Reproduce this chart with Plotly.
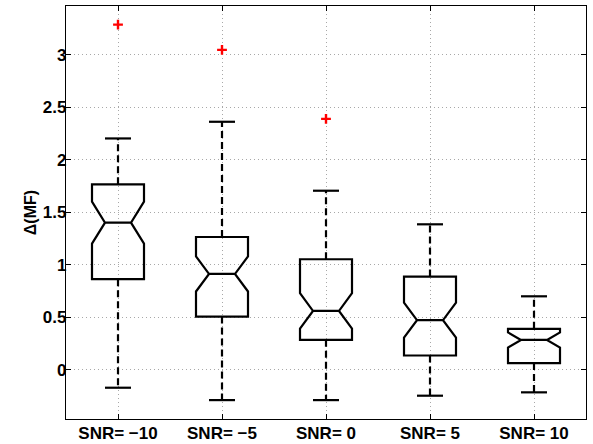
import plotly.graph_objects as go

# ---- data ----
labels = ["SNR= \u221210", "SNR= \u22125", "SNR= 0", "SNR= 5", "SNR= 10"]
positions = [1, 2, 3, 4, 5]
q1 = [0.863, 0.507, 0.285, 0.136, 0.064]
median = [1.402, 0.913, 0.561, 0.473, 0.284]
q3 = [1.767, 1.265, 1.053, 0.888, 0.390]
notch = [0.200, 0.167, 0.168, 0.167, 0.072]
whisk_lo = [-0.171, -0.289, -0.289, -0.247, -0.215]
whisk_hi = [2.204, 2.363, 1.706, 1.386, 0.700]
outlier_x = [1, 2, 3]
outlier_y = [3.289, 3.048, 2.391]
ytick_vals = [0, 0.5, 1, 1.5, 2, 2.5, 3]
ytick_text = ["0", "0.5", "1", "1.5", "2", "2.5", "3"]

FONT = "Liberation Sans, Arial, Helvetica, sans-serif"
BOXW = 0.5
CAPW = 0.25

fig = go.Figure()

# boxes with notches (whiskers drawn separately as dashed lines)
fig.add_trace(go.Box(
    x=positions, q1=q1, median=median, q3=q3,
    lowerfence=q1, upperfence=q3, notchspan=notch,
    notched=True, notchwidth=0.25, width=BOXW, whiskerwidth=0,
    fillcolor="rgba(0,0,0,0)", line=dict(color="black", width=2.2),
    boxpoints=False, showlegend=False, hoverinfo="skip",
))

# dashed whiskers
wx, wy = [], []
for p, a, b, lo, hi in zip(positions, q1, q3, whisk_lo, whisk_hi):
    wx += [p, p, None, p, p, None]
    wy += [b, hi, None, a, lo, None]
fig.add_trace(go.Scatter(x=wx, y=wy, mode="lines",
                         line=dict(color="black", width=2.2, dash="7px,4px"),
                         showlegend=False, hoverinfo="skip"))

# whisker caps
cx, cy = [], []
for p, lo, hi in zip(positions, whisk_lo, whisk_hi):
    cx += [p - CAPW / 2, p + CAPW / 2, None, p - CAPW / 2, p + CAPW / 2, None]
    cy += [hi, hi, None, lo, lo, None]
fig.add_trace(go.Scatter(x=cx, y=cy, mode="lines",
                         line=dict(color="black", width=2.2),
                         showlegend=False, hoverinfo="skip"))

# outliers
fig.add_trace(go.Scatter(x=outlier_x, y=outlier_y, mode="markers",
                         marker=dict(symbol="cross-thin", size=7,
                                     line=dict(color="red", width=2.4)),
                         showlegend=False, hoverinfo="skip"))

axis_common = dict(
    showline=True, linecolor="black", linewidth=1.2, mirror="ticks",
    ticks="inside", ticklen=5, tickcolor="black", tickwidth=1,
    showgrid=True, gridcolor="#a8a8a8", gridwidth=1, griddash="1px,3px",
    zeroline=False, automargin=False,
    tickfont=dict(family=FONT, size=17, color="black", weight="bold"),
)

fig.update_xaxes(range=[0.5, 5.5], tickmode="array", tickvals=positions,
                 ticktext=labels, ticklabelstandoff=-2, **axis_common)
fig.update_yaxes(range=[-0.469, 3.466], tickmode="array",
                 tickvals=ytick_vals, ticktext=ytick_text,
                 ticklabelstandoff=-5,
                 title=dict(text="\u0394(MF)", standoff=2,
                            font=dict(family=FONT, size=16, color="black", weight="bold")),
                 **axis_common)

fig.update_layout(
    width=593, height=444,
    margin=dict(l=66, r=7, t=6, b=25),
    paper_bgcolor="white", plot_bgcolor="white",
    showlegend=False,
)

fig.write_html("out.html", config={"displayModeBar": False},
               post_script="document.body.style.margin='0px';")
